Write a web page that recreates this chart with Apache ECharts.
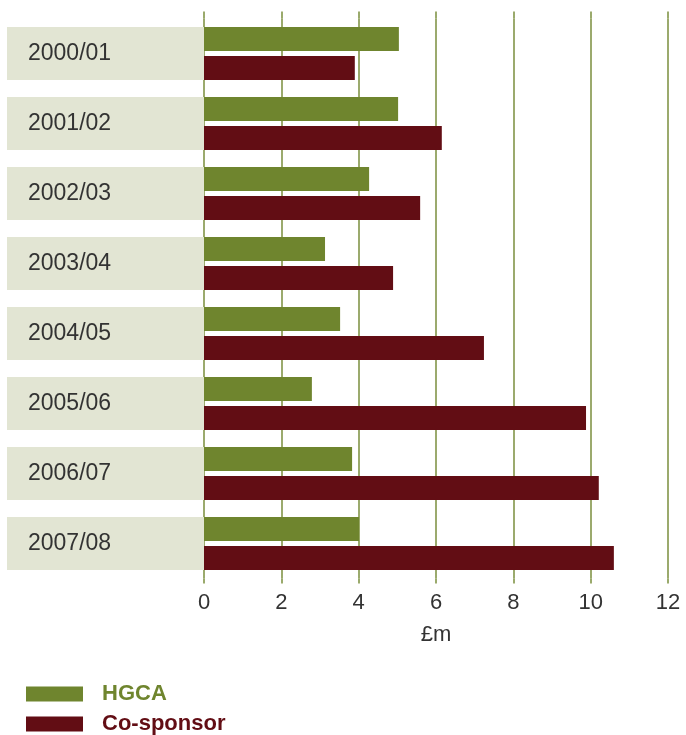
<!DOCTYPE html>
<html>
<head>
<meta charset="utf-8">
<script src="https://cdn.jsdelivr.net/npm/echarts@6/dist/echarts.min.js"></script>
<style>
  html, body { margin: 0; padding: 0; background: #fff; }
  #chart { width: 686px; height: 735px; }
</style>
</head>
<body>
<div id="chart"></div>
<script>
const categories = ['2000/01', '2001/02', '2002/03', '2003/04', '2004/05', '2005/06', '2006/07', '2007/08'];
const hgca = [5.04, 5.02, 4.27, 3.13, 3.52, 2.79, 3.83, 4.01];
const coSponsor = [3.90, 6.15, 5.59, 4.89, 7.24, 9.88, 10.21, 10.60];
const xTicks = { min: 0, max: 12, interval: 2 };
const axisName = '£m';

const GREEN = '#6f852e';
const RED = '#620d14';
const GRID = '#7a8e3c';
const FONT = '"Liberation Sans", Arial, sans-serif';

const chart = echarts.init(document.getElementById('chart'));
chart.setOption({
  animation: false,
  textStyle: { fontFamily: FONT },
  grid: { left: 204, right: 18, top: 18.5, height: 560 },
  legend: {
    orient: 'vertical',
    left: 26,
    top: 683,
    height: 80,
    padding: 0,
    itemWidth: 57,
    itemHeight: 15,
    itemGap: 8,
    icon: 'rect',
    textStyle: { fontSize: 22, fontWeight: 'bold', fontFamily: FONT, padding: [0, 0, 0, 14] },
    data: [
      { name: 'HGCA', textStyle: { color: GREEN } },
      { name: 'Co-sponsor', textStyle: { color: RED } }
    ]
  },
  xAxis: [{
    type: 'value',
    position: 'bottom',
    min: xTicks.min, max: xTicks.max, interval: xTicks.interval,
    name: axisName,
    nameLocation: 'middle',
    nameGap: 45,
    nameTextStyle: { fontSize: 22, color: '#333', fontFamily: FONT },
    axisLine: { show: false },
    axisTick: { show: true, length: 5, lineStyle: { color: GRID, width: 1.5 } },
    axisLabel: { fontSize: 22, color: '#333', margin: 13, fontFamily: FONT },
    splitLine: { show: true, lineStyle: { color: GRID, width: 1.5 } }
  }, {
    type: 'value',
    position: 'top',
    min: xTicks.min, max: xTicks.max, interval: xTicks.interval,
    axisLine: { show: false },
    axisTick: { show: true, length: 7, lineStyle: { color: GRID, width: 1.5 } },
    axisLabel: { show: false },
    splitLine: { show: false }
  }],
  yAxis: {
    type: 'category',
    inverse: true,
    data: categories,
    axisLine: { show: false },
    axisTick: { show: false },
    axisLabel: {
      margin: 0,
      formatter: v => '{a|' + v + '}',
      rich: {
        a: {
          width: 176, height: 53, padding: [0, 0, 0, 21],
          backgroundColor: '#e2e5d3', align: 'left',
          fontSize: 23, color: '#333', fontFamily: FONT
        }
      }
    }
  },
  series: [
    { name: 'HGCA', type: 'bar', data: hgca, barWidth: 24, barGap: '21%', itemStyle: { color: GREEN } },
    { name: 'Co-sponsor', type: 'bar', data: coSponsor, barWidth: 24, barGap: '21%', itemStyle: { color: RED } }
  ]
});
</script>
</body>
</html>
